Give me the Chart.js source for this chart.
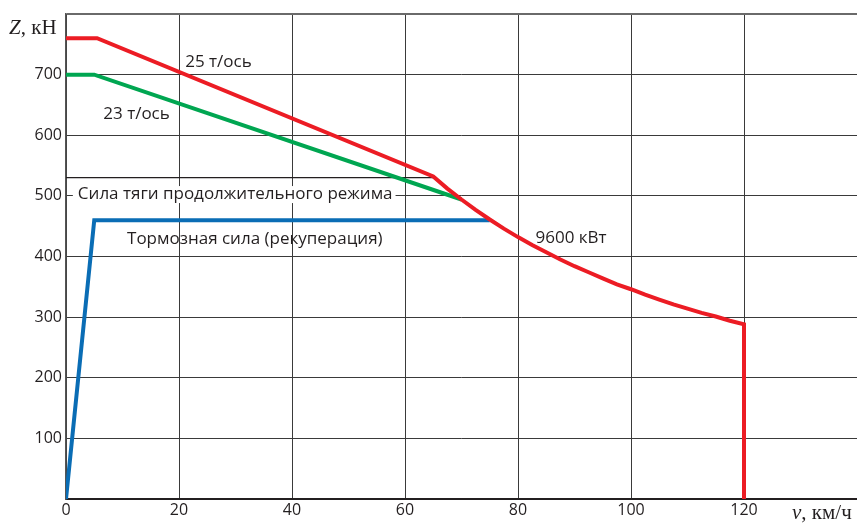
<!DOCTYPE html>
<html>
<head>
<meta charset="utf-8">
<script src="https://cdn.jsdelivr.net/npm/chart.js@4"></script>
<style>
  body { margin: 0; background: #fff; }
</style>
</head>
<body>
<canvas id="chart" width="857" height="523"></canvas>
<script>
// скорость, км/ч и сила тяги, кН
var redV = [0, 5.5, 65, 67.5, 70, 72.5, 75, 77.5, 80, 82.5, 85, 87.5, 90, 92.5, 95, 97.5, 100, 102.5, 105, 107.5, 110, 112.5, 115, 117.5, 120, 120];
var redZ = [760, 760, 532, 512, 494, 477, 461, 446, 432, 419, 407, 395, 384, 374, 364, 354, 346, 337, 329, 321, 314, 307, 301, 294, 288, 0];
var greenV = [0, 5, 70];
var greenZ = [700, 700, 494];
var blueV = [0, 5, 75];
var blueZ = [0, 460, 460];
var contV = [0, 65];
var contZ = [530, 530];
var xTicks = [0, 20, 40, 60, 80, 100, 120];
var yTicks = [100, 200, 300, 400, 500, 600, 700];

function pts(xs, ys) {
    var out = [];
    for (var i = 0; i < xs.length; i++) out.push({x: xs[i], y: ys[i]});
    return out;
}

var labelFont = '17px "Open Sans", sans-serif';

var textPlugin = {
    id: 'texts',
    afterDatasetsDraw: function(chart) {
        var ctx = chart.ctx, x = chart.scales.x, y = chart.scales.y;
        ctx.save();
        ctx.font = labelFont;
        ctx.fillStyle = '#231f20';
        ctx.textBaseline = 'middle';
        ctx.textAlign = 'left';

        // подпись с белой подложкой поверх сетки
        var t = 'Сила тяги продолжительного режима';
        var tx = x.getPixelForValue(2.1), ty = y.getPixelForValue(503);
        var w = ctx.measureText(t).width;
        ctx.fillStyle = '#fff';
        ctx.fillRect(tx - 5, ty - 8, w + 8, 17);
        ctx.fillStyle = '#231f20';
        ctx.fillText(t, tx, ty);

        ctx.fillText('25 т/ось', x.getPixelForValue(21.1), y.getPixelForValue(721));
        ctx.fillText('23 т/ось', x.getPixelForValue(6.6), y.getPixelForValue(634));
        ctx.fillText('Тормозная сила (рекуперация)', x.getPixelForValue(10.8), y.getPixelForValue(428));
        ctx.fillText('9600 кВт', x.getPixelForValue(83.1), y.getPixelForValue(431));

        // заголовки осей
        ctx.font = 'italic 21px "Liberation Serif", serif';
        ctx.fillText('Z', 9, 28);
        var zw = ctx.measureText('Z').width;
        ctx.font = '21px "Liberation Serif", serif';
        ctx.fillText(', кН', 9 + zw, 28);

        ctx.font = 'italic 21px "Liberation Serif", serif';
        ctx.fillText('v', 792, 513);
        var vw = ctx.measureText('v').width;
        ctx.font = '21px "Liberation Serif", serif';
        ctx.fillText(', км/ч', 792 + vw, 513);
        ctx.restore();
    }
};

new Chart(document.getElementById('chart'), {
    type: 'line',
    data: {
        datasets: [{
            data: pts(redV, redZ),
            borderColor: '#ec1c24',
            borderWidth: 4,
            order: 1
        }, {
            data: pts(greenV, greenZ),
            borderColor: '#00a651',
            borderWidth: 4,
            order: 2
        }, {
            data: pts(blueV, blueZ),
            borderColor: '#0a6db5',
            borderWidth: 4,
            order: 3
        }, {
            data: pts(contV, contZ),
            borderColor: '#231f20',
            borderWidth: 1.2,
            order: 4
        }]
    },
    options: {
        responsive: false,
        animation: false,
        layout: { padding: { top: 14, right: 0, left: 0, bottom: 0 } },
        elements: { point: { radius: 0 }, line: { tension: 0, borderJoinStyle: 'miter' } },
        plugins: { legend: { display: false }, tooltip: { enabled: false } },
        scales: {
            x: {
                type: 'linear',
                min: 0,
                max: 140,
                afterBuildTicks: function(s) {
                    s.ticks = [0, 20, 40, 60, 80, 100, 120, 140].map(function(v) { return {value: v}; });
                },
                afterFit: function(s) {
                    s.height = 24;
                    s.paddingRight = 0;
                    s.paddingLeft = 0;
                },
                ticks: {
                    padding: 2,
                    maxRotation: 0,
                    color: '#231f20',
                    font: { family: 'Open Sans', size: 16 },
                    callback: function(v) { return xTicks.indexOf(v) >= 0 ? String(v) : ''; }
                },
                grid: { color: '#3a3a3a', lineWidth: 1, drawTicks: false },
                border: { color: '#231f20', width: 2 }
            },
            y: {
                min: 0,
                max: 800,
                afterBuildTicks: function(s) {
                    s.ticks = [0, 100, 200, 300, 400, 500, 600, 700, 800].map(function(v) { return {value: v}; });
                },
                afterFit: function(s) {
                    s.width = 66;
                    s.paddingTop = 0;
                    s.paddingBottom = 0;
                },
                ticks: {
                    padding: 4,
                    color: '#231f20',
                    font: { family: 'Open Sans', size: 16 },
                    callback: function(v) { return yTicks.indexOf(v) >= 0 ? String(v) : ''; }
                },
                grid: {
                    color: function(c) { return c.tick && c.tick.value === 800 ? '#6a6a6a' : '#3a3a3a'; },
                    lineWidth: function(c) { return c.tick && c.tick.value === 800 ? 2 : 1; },
                    drawTicks: false
                },
                border: { color: '#555', width: 1.5 }
            }
        }
    },
    plugins: [textPlugin]
});
</script>
</body>
</html>
